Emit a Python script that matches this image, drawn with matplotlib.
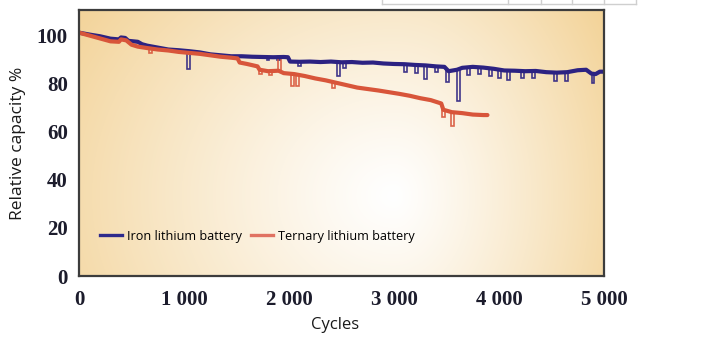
import numpy as np
import matplotlib
matplotlib.use("Agg")
import matplotlib.pyplot as plt
from matplotlib.lines import Line2D

# ---- data -------------------------------------------------------------
iron_cycles = [0, 100, 200, 300, 380, 400, 440, 470, 560, 600, 650, 750, 850,
               950, 1050, 1150, 1250, 1350, 1450, 1550, 1650, 1750, 1850, 1950,
               1990, 2010, 2100, 2200, 2300, 2400, 2500, 2600, 2700, 2800, 2900,
               3000, 3100, 3200, 3300, 3400, 3480, 3520, 3600, 3650, 3750, 3850,
               3950, 4050, 4150, 4250, 4350, 4450, 4550, 4650, 4750, 4830, 4880,
               4920, 4960, 5000]
iron_capacity = [101.0, 100.2, 99.5, 98.5, 98.2, 99.0, 98.8, 97.6, 97.2, 96.2,
                 95.6, 94.8, 94.0, 93.7, 93.3, 92.8, 92.0, 91.6, 91.2, 91.2,
                 91.0, 90.9, 90.8, 90.9, 90.8, 89.0, 88.9, 89.0, 88.8, 89.0,
                 88.7, 88.8, 88.5, 88.6, 88.2, 88.0, 87.9, 87.6, 87.4, 87.0,
                 86.8, 85.0, 85.6, 86.4, 86.8, 86.5, 86.0, 85.3, 85.2, 85.0,
                 85.1, 84.6, 84.4, 84.6, 85.4, 85.6, 84.0, 83.8, 84.8, 84.8]
iron_dip_cycles = [1045, 1800, 1900, 2100, 2470, 2530, 3108, 3213, 3298, 3403,
                   3508, 3612, 3707, 3812, 3916, 4002, 4087, 4221, 4325, 4534,
                   4639, 4895]
iron_dip_capacity = [86.0, 89.5, 89.8, 87.0, 82.8, 86.5, 84.6, 84.4, 81.7, 84.5,
                     80.5, 72.6, 83.5, 84.0, 83.0, 82.3, 81.3, 82.0, 82.0, 80.9,
                     80.8, 80.0]

ternary_cycles = [0, 100, 200, 300, 380, 400, 450, 500, 560, 650, 750, 850, 950,
                  1050, 1150, 1250, 1350, 1450, 1510, 1530, 1600, 1700, 1720,
                  1800, 1900, 1950, 2050, 2150, 2250, 2350, 2450, 2550, 2650,
                  2750, 2850, 2950, 3050, 3150, 3250, 3350, 3450, 3470, 3550,
                  3650, 3750, 3850, 3890]
ternary_capacity = [101.0, 99.8, 98.6, 97.4, 97.2, 98.2, 97.8, 96.0, 95.2, 94.6,
                    94.0, 93.6, 93.0, 92.6, 92.2, 91.6, 91.0, 90.6, 90.3, 88.6,
                    88.0, 87.0, 85.6, 85.0, 85.2, 84.2, 83.8, 83.0, 82.0, 81.2,
                    80.2, 79.2, 78.2, 77.6, 77.0, 76.3, 75.6, 74.8, 73.8, 73.0,
                    71.6, 69.0, 68.0, 67.6, 67.0, 66.8, 66.8]
ternary_dip_cycles = [680, 1730, 1825, 1910, 2030, 2080, 2425, 3470, 3560]
ternary_dip_capacity = [92.5, 84.0, 83.5, 91.5, 78.8, 78.8, 78.0, 66.0, 62.2]

x_ticks = [0, 1000, 2000, 3000, 4000, 5000]
x_tick_labels = ["0", "1 000", "2 000", "3 000", "4 000", "5 000"]
y_ticks = [0, 20, 40, 60, 80, 100]
y_tick_labels = ["0", "20", "40", "60", "80", "100"]

series_names = ["Iron lithium battery", "Ternary lithium battery"]

# ---- style ------------------------------------------------------------
IRON = "#2c2282"
TERNARY = "#d8553a"
IRON_KEY = "#2e2a8c"
TERNARY_KEY = "#e07262"
TICK_COLOR = "#1c1c2c"
SANS = ["Open Sans", "DejaVu Sans"]
SERIF = ["Liberation Serif", "DejaVu Serif"]

fig = plt.figure(figsize=(7.07, 3.48), dpi=100)
ax = fig.add_axes([79 / 707, 1 - 276 / 348, 525 / 707, 266 / 348])

# warm background with a pale glow toward the lower middle
nx, ny = 400, 200
gx, gy = np.meshgrid(np.linspace(0, 1, nx), np.linspace(1, 0, ny))
cx, cy = 0.6, 0.3
rx = np.where(gx < cx, 0.74, 0.48)
ry = 1.25
dist = np.sqrt(((gx - cx) / rx) ** 2 + ((gy - cy) / ry) ** 2)
t = np.clip(dist, 0, 1) ** 1.15
edge = np.array([0xF3, 0xD3, 0x98]) / 255.0
centre = np.array([1.0, 1.0, 1.0])
img = centre[None, None, :] * (1 - t[..., None]) + edge[None, None, :] * t[..., None]
ax.imshow(img, extent=[0, 1, 0, 1], transform=ax.transAxes, aspect="auto",
          zorder=0, interpolation="bilinear")


def draw_dips(base_x, base_y, dips_x, dips_y, color):
    """Narrow outlined notches leaving the trace to each recorded value."""
    half = 14
    for c, v in zip(dips_x, dips_y):
        top = np.interp(c, base_x, base_y)
        ax.plot([c - half, c - half, c + half, c + half], [top, v, v, top],
                color=color, lw=1.2, alpha=0.9, zorder=2,
                solid_joinstyle="miter")


draw_dips(iron_cycles, iron_capacity, iron_dip_cycles, iron_dip_capacity, IRON)
draw_dips(ternary_cycles, ternary_capacity, ternary_dip_cycles,
          ternary_dip_capacity, TERNARY)

ax.plot(iron_cycles, iron_capacity, color=IRON, lw=3.0, zorder=3,
        solid_joinstyle="round", solid_capstyle="round")
ax.plot(ternary_cycles, ternary_capacity, color=TERNARY, lw=3.0, zorder=4,
        solid_joinstyle="round", solid_capstyle="round")

ax.set_xlim(0, 5000)
ax.set_ylim(0, 110.4)
ax.set_xticks(x_ticks)
ax.set_xticklabels(x_tick_labels)
ax.set_yticks(y_ticks)
ax.set_yticklabels(y_tick_labels)
ax.tick_params(axis="both", length=0, colors=TICK_COLOR)
ax.tick_params(axis="x", pad=10)
ax.tick_params(axis="y", pad=8)
for lab in ax.get_xticklabels() + ax.get_yticklabels():
    lab.set_fontfamily(SERIF)
    lab.set_fontweight("bold")
    lab.set_fontsize(15)

for side, sp in ax.spines.items():
    sp.set_color("#3c3c3c")
    sp.set_linewidth(1.6)
    sp.set_zorder(6)

ax.set_xlabel("Cycles", family=SANS, fontsize=12, color="#1a1a1a")
ax.set_ylabel("Relative capacity %", family=SANS, fontsize=12.5, color="#1a1a1a")
ax.xaxis.set_label_coords(0.488, -0.184)
ax.yaxis.set_label_coords(-0.116, 0.5)
ax.xaxis.label.set_va("center")
ax.yaxis.label.set_va("center")

handles = [Line2D([], [], color=IRON_KEY, lw=2.4),
           Line2D([], [], color=TERNARY_KEY, lw=2.4)]
ax.legend(handles, series_names, loc="center left",
          bbox_to_anchor=(0.04, 0.15), ncol=2, frameon=False,
          prop={"family": SANS, "size": 9.1}, handlelength=1.75,
          handletextpad=0.35, columnspacing=0.75, borderaxespad=0,
          borderpad=0)

# faint ruled strip along the top edge of the page
grey = "#cfcfcf"
fig.add_artist(Line2D([382 / 707, 636 / 707], [1 - 3.5 / 348, 1 - 3.5 / 348],
                      transform=fig.transFigure, color=grey, lw=1.0))
for px in [382, 508, 541, 572, 604, 636]:
    fig.add_artist(Line2D([px / 707, px / 707], [1.0, 1 - 3.5 / 348],
                          transform=fig.transFigure, color=grey, lw=1.0))

fig.savefig("out.png", dpi=100, facecolor="white")
